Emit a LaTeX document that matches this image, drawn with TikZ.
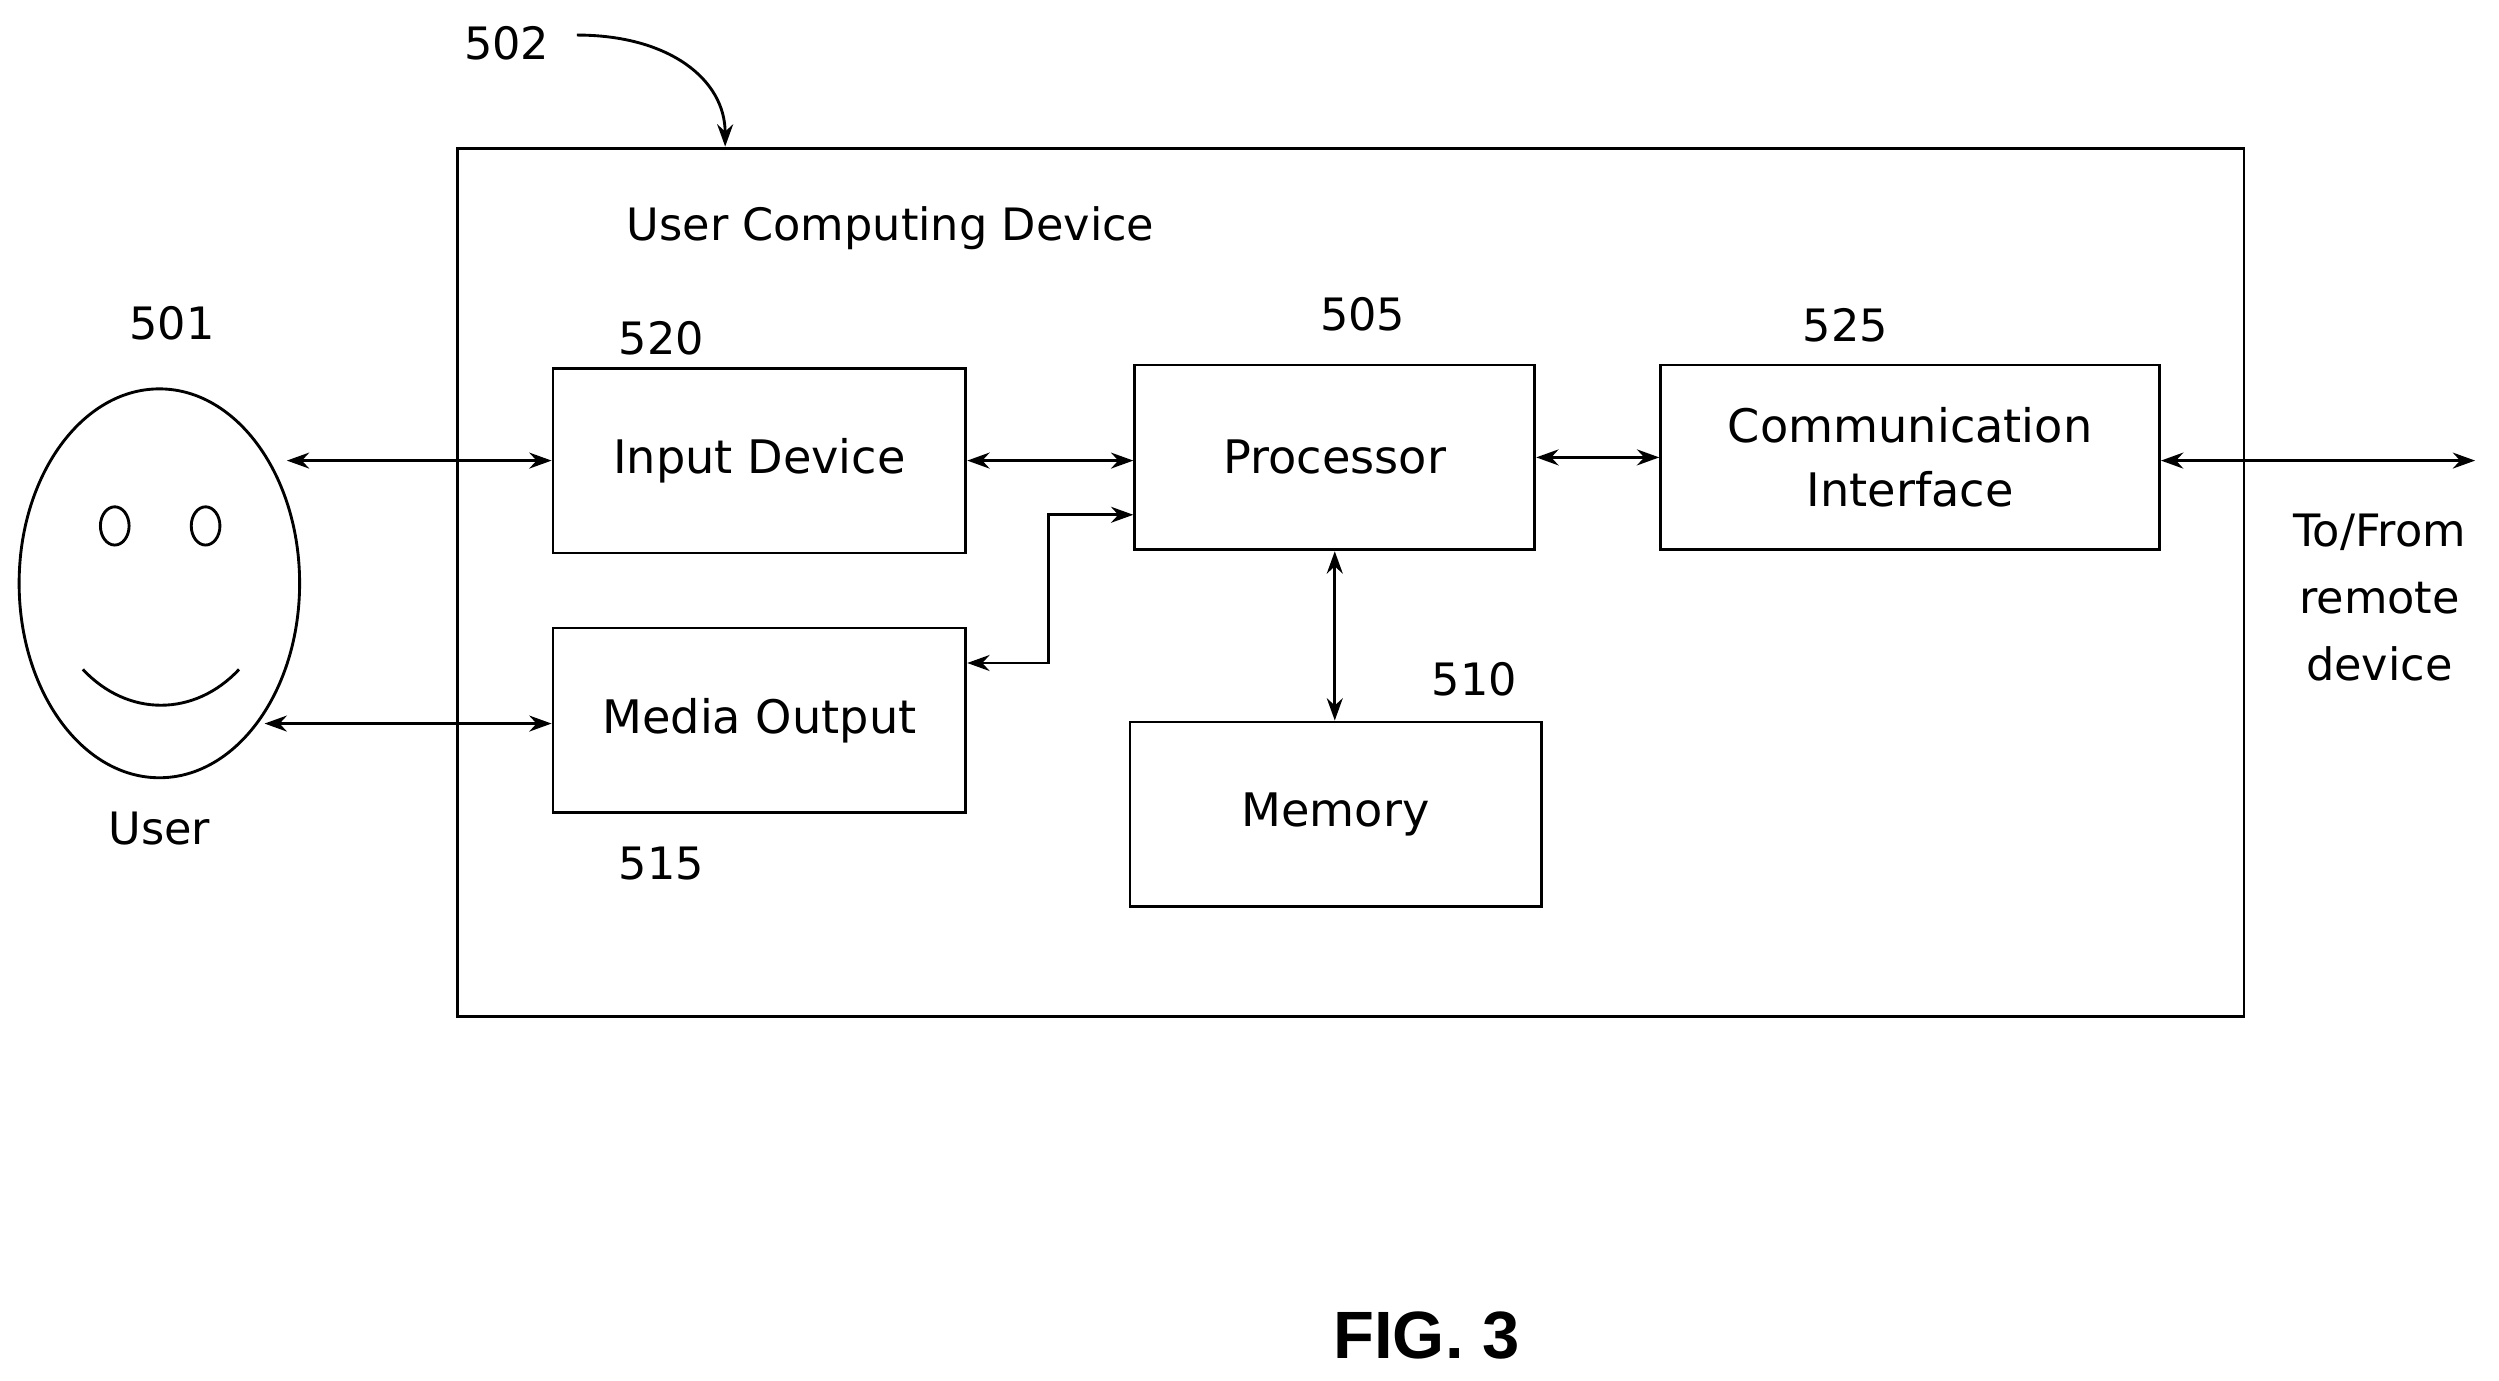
\documentclass[tikz,border=0pt]{standalone}
\usetikzlibrary{shapes.geometric,arrows.meta}
\usepackage{fontspec}
\setmainfont{DejaVu Sans}
\newfontfamily\figfont{Liberation Sans}
\begin{document}
\begin{tikzpicture}[x=1pt,y=-1pt,
  box/.style={draw,line width=1.8pt,inner sep=0pt,align=center,font=\fontsize{29}{40}\selectfont},
  lbl/.style={font=\fontsize{28}{34}\selectfont,inner sep=0pt},
  arr/.style={line width=1.8pt,<->,>={Stealth[length=14pt,width=10pt]}}]
\useasboundingbox (0,0) rectangle (1568,866);
\node[draw,line width=1.8pt,minimum width=1121pt,minimum height=545pt,inner sep=0pt] (dev) at (847.5,365.5) {};
\node[lbl,anchor=west] (t) at (393,143) {User Computing Device};
\node[box,minimum width=259pt,minimum height=116pt] (in) at (476.5,289) {Input Device};
\node[box,minimum width=259pt,minimum height=116pt] (mo) at (476.5,452) {Media Output};
\node[box,minimum width=251pt,minimum height=116pt] (pr) at (837.5,287) {Processor};
\node[box,minimum width=258pt,minimum height=116pt] (me) at (838,511) {Memory};
\node[box,minimum width=313pt,minimum height=116pt] (ci) at (1198.5,287) {Communication\\Interface};
\node[draw,line width=1.8pt,ellipse,minimum width=176pt,minimum height=244pt,inner sep=0pt] (face) at (100,366) {};
\node[draw,line width=1.8pt,ellipse,minimum width=18pt,minimum height=24pt,inner sep=0pt] (e1) at (72,330) {};
\node[draw,line width=1.8pt,ellipse,minimum width=18pt,minimum height=24pt,inner sep=0pt] (e2) at (129,330) {};
\draw[line width=1.8pt] (52,420) .. controls (80,450) and (122,450) .. (150,420);
\node[lbl] (n501) at (108,203) {501};
\node[lbl] (user) at (100,520) {User};
\node[lbl] (n502) at (318,27) {502};
\node[lbl] (n520) at (415,212) {520};
\node[lbl] (n515) at (415,542) {515};
\node[lbl] (n505) at (855,197) {505};
\node[lbl] (n510) at (925,426) {510};
\node[lbl] (n525) at (1158,204) {525};
\node[lbl,align=center,font=\fontsize{28}{42}\selectfont] (rem) at (1493,375) {To/From\\remote\\device};
\node[font=\figfont\bfseries\fontsize{42}{48}\selectfont,inner sep=0pt] (fig) at (895,838) {FIG. 3};
\coordinate (c1) at (180,289);
\coordinate (c2) at (166,454);
\coordinate (c3) at (1553,289);
\coordinate (c4) at (362,22);
\coordinate (c5) at (455,92);
\draw[line width=1.8pt,->,>={Stealth[length=14pt,width=10pt]}] (c4) .. controls (420,22) and (455,50) .. (c5);
\draw[arr] (c1) -- (c1 -| in.west);
\draw[arr] (c2) -- (c2 -| mo.west);
\draw[arr] (in.east) -- (in.east -| pr.west);
\draw[arr] (mo.east |- 0,416) -- (658,416) -- (658,323) -- (pr.west |- 0,323);
\draw[arr] (pr.east) -- (ci.west);
\draw[arr] (pr.south) -- (pr.south |- me.north);
\draw[arr] (ci.east |- c3) -- (c3);
\end{tikzpicture}
\end{document}
